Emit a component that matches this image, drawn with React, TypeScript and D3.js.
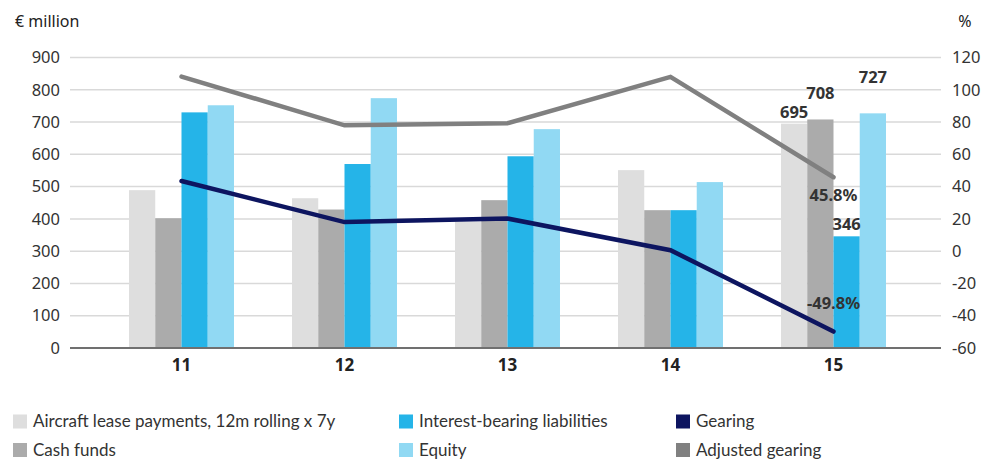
import React from "react";
import * as d3 from "d3";

// data
const years = ["11", "12", "13", "14", "15"];
const leasePayments = [489, 464, 392, 551, 695];
const cashFunds = [402, 429, 458, 427, 708];
const interestBearing = [730, 570, 594, 427, 346];
const equity = [752, 774, 678, 514, 727];
const gearing = [43.5, 18, 20.2, 0.6, -49.8];
const adjustedGearing = [108.2, 78, 79.3, 108, 45.8];

const leftTicks = [0, 100, 200, 300, 400, 500, 600, 700, 800, 900];
const rightTicks = [-60, -40, -20, 0, 20, 40, 60, 80, 100, 120];

const barSeries = [
  { name: "Aircraft lease payments, 12m rolling x 7y", values: leasePayments, color: "#dedede" },
  { name: "Cash funds", values: cashFunds, color: "#ababab" },
  { name: "Interest-bearing liabilities", values: interestBearing, color: "#25b4e8" },
  { name: "Equity", values: equity, color: "#91d9f3" },
];
const lineSeries = [
  { name: "Gearing", values: gearing, color: "#0d1560" },
  { name: "Adjusted gearing", values: adjustedGearing, color: "#808080" },
];

const W = 985;
const H = 460;
const font = "'Noto Sans', 'DejaVu Sans', sans-serif";
const legendFont = "Lato, 'Noto Sans', sans-serif";

export default function App() {
  const gridLeft = 70;
  const gridRight = 941;
  const top = 57.5;
  const bottom = 348;

  const yL = d3.scaleLinear().domain([0, 900]).range([bottom, top]);
  const yR = d3.scaleLinear().domain([-60, 120]).range([bottom, top]);
  const x0 = d3.scaleBand<string>().domain(years).range([100, 915]).paddingInner(0.356).paddingOuter(0.178);
  const x1 = d3.scaleBand<string>().domain(barSeries.map((s) => s.name)).range([0, x0.bandwidth()]);
  const cx = (i: number) => (x0(years[i]) ?? 0) + x0.bandwidth() / 2;

  const line = d3
    .line<number>()
    .x((_, i) => cx(i))
    .y((d) => yR(d));

  const last = years.length - 1;
  const lastX = x0(years[last]) ?? 0;
  const barLabel = (si: number, dy: number) => ({
    x: lastX + (x1(barSeries[si].name) ?? 0) + x1.bandwidth() / 2,
    y: yL(barSeries[si].values[last]) + dy,
    text: String(barSeries[si].values[last]),
  });
  const labels = [
    barLabel(0, -6),
    barLabel(1, -20),
    barLabel(3, -30),
    barLabel(2, -6),
    { x: cx(last), y: yR(adjustedGearing[last]) + 24, text: `${adjustedGearing[last]}%` },
    { x: cx(last), y: yR(gearing[last]) - 23, text: `${gearing[last]}%` },
  ];

  const legendCols = [13, 399, 676];
  const legendRows = [421.5, 450];
  const legendItems = [
    { ...barSeries[0], col: 0, row: 0 },
    { ...barSeries[1], col: 0, row: 1 },
    { ...barSeries[2], col: 1, row: 0 },
    { ...barSeries[3], col: 1, row: 1 },
    { ...lineSeries[0], col: 2, row: 0 },
    { ...lineSeries[1], col: 2, row: 1 },
  ];

  return (
    <svg width={W} height={H} style={{ position: "absolute", left: 0, top: 0, background: "#fff" }} fontFamily={font}>
      <text x={15} y={27} fontSize={16} fill="#222">€ million</text>
      <text x={965} y={27} fontSize={16} fill="#222" textAnchor="middle">%</text>

      {leftTicks.map((t) => (
        <g key={"g" + t}>
          {t !== 0 && <line x1={gridLeft} x2={gridRight} y1={yL(t)} y2={yL(t)} stroke="#d9d9d9" strokeWidth={1.5} />}
          <text x={60} y={yL(t)} dy="0.35em" textAnchor="end" fontSize={16.5} fill="#333">{t}</text>
        </g>
      ))}
      {rightTicks.map((t) => (
        <text key={"r" + t} x={952} y={yR(t)} dy="0.35em" fontSize={16.5} fill="#333">{t}</text>
      ))}

      {barSeries.map((s) =>
        s.values.map((v, i) => (
          <rect
            key={s.name + i}
            x={(x0(years[i]) ?? 0) + (x1(s.name) ?? 0)}
            y={yL(v)}
            width={x1.bandwidth()}
            height={bottom - yL(v)}
            fill={s.color}
          />
        ))
      )}

      <line x1={gridLeft} x2={gridRight} y1={bottom} y2={bottom} stroke="#707070" strokeWidth={2} />

      {lineSeries
        .slice()
        .reverse()
        .map((s) => (
          <path key={s.name} d={line(s.values) ?? ""} fill="none" stroke={s.color} strokeWidth={4.5} strokeLinecap="round" strokeLinejoin="miter" />
        ))}

      {labels.map((l, i) => (
        <text key={"l" + i} x={l.x} y={l.y} textAnchor="middle" fontSize={16.5} fontWeight="bold" fill="#333">{l.text}</text>
      ))}

      {years.map((y, i) => (
        <text key={"x" + y} x={cx(i)} y={371} textAnchor="middle" fontSize={17} fontWeight="bold" fill="#222">{y}</text>
      ))}

      {legendItems.map((it) => (
        <g key={"lg" + it.name} transform={`translate(${legendCols[it.col]},${legendRows[it.row]})`}>
          <rect x={0} y={-7} width={14} height={14} fill={it.color} />
          <text x={20} y={0} dy="0.35em" fontSize={17} fill="#333" fontFamily={legendFont}>{it.name}</text>
        </g>
      ))}
    </svg>
  );
}
